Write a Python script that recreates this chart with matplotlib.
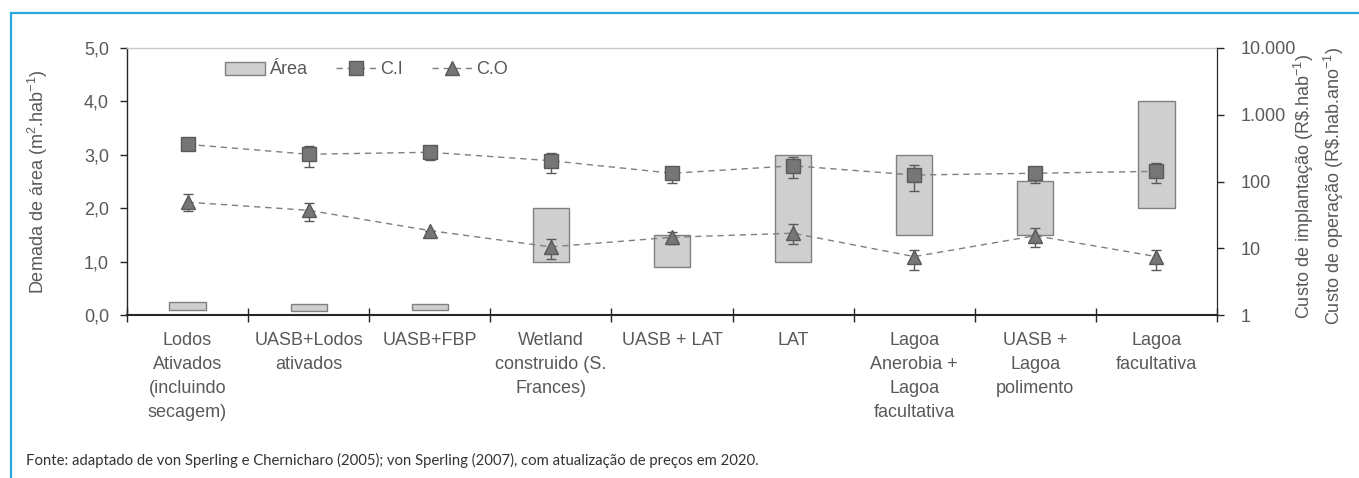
import matplotlib
matplotlib.use("Agg")
import matplotlib.pyplot as plt
from matplotlib import font_manager
from matplotlib.lines import Line2D
import numpy as np

# ---- data ----
categories = [
    "Lodos\nAtivados\n(incluindo\nsecagem)",
    "UASB+Lodos\nativados",
    "UASB+FBP",
    "Wetland\nconstruido (S.\nFrances)",
    "UASB + LAT",
    "LAT",
    "Lagoa\nAnerobia +\nLagoa\nfacultativa",
    "UASB +\nLagoa\npolimento",
    "Lagoa\nfacultativa",
]
area_min = [0.10, 0.08, 0.10, 1.0, 0.9, 1.0, 1.5, 1.5, 2.0]
area_max = [0.25, 0.20, 0.20, 2.0, 1.5, 3.0, 3.0, 2.5, 4.0]

ci = [360, 256, 274, 205, 133, 172, 125, 133, 142]
ci_low = [360, 165, 208, 135, 96, 113, 72, 95, 95]
ci_high = [360, 344, 344, 270, 167, 230, 177, 165, 189]

co = [49, 37, 18.4, 10.5, 14.6, 16.8, 7.5, 15.4, 7.5]
co_low = [36, 26, 18.4, 6.9, 11.6, 11.5, 4.8, 10.4, 4.8]
co_high = [66, 47, 18.4, 13.8, 17.5, 23, 9.5, 20.3, 9.5]

left_ticks = [0, 1, 2, 3, 4, 5]
left_ticklabels = ["0,0", "1,0", "2,0", "3,0", "4,0", "5,0"]
right_ticks = [1, 10, 100, 1000, 10000]
right_ticklabels = ["1", "10", "100", "1.000", "10.000"]

# ---- fonts ----
names = {f.name for f in font_manager.fontManager.ttflist}
main_font = "Liberation Sans Narrow" if "Liberation Sans Narrow" in names else "Liberation Sans"
note_font = "Lato" if "Lato" in names else "DejaVu Sans"
plt.rcParams["font.family"] = [main_font, "DejaVu Sans"]
plt.rcParams["mathtext.fontset"] = "custom"
plt.rcParams["mathtext.rm"] = main_font
plt.rcParams["mathtext.it"] = main_font
plt.rcParams["mathtext.default"] = "regular"

TXT = "#595959"
FS = 13

W, H = 1359, 478
fig = plt.figure(figsize=(W / 100, H / 100), dpi=100)
ax = fig.add_axes([127 / W, 1 - 315 / H, (1217 - 127) / W, (315 - 48) / H])

x = np.arange(len(categories))
heights = np.array(area_max) - np.array(area_min)
bars = ax.bar(x, heights, bottom=area_min, width=0.3, color="#d0cfd0",
              edgecolor="#808080", linewidth=1.0, zorder=2, label="Área")

ax.set_xlim(-0.5, len(categories) - 0.5)
ax.set_ylim(0, 5)
ax.set_yticks(left_ticks)
ax.set_yticklabels(left_ticklabels)
ax.set_xticks(x)
ax.set_xticklabels(categories, linespacing=1.55)
ax.set_xticks(np.arange(-0.5, len(categories)), minor=True)
ax.tick_params(axis="x", which="major", length=0, pad=12, labelsize=FS, labelcolor=TXT)
ax.tick_params(axis="x", which="minor", direction="inout", length=9.5, width=1.0, color="#262626")
ax.tick_params(axis="y", direction="out", length=5, width=1.0, color="#262626",
               pad=8, labelsize=FS, labelcolor=TXT)

for s in ("left", "bottom", "right"):
    ax.spines[s].set_color("#262626")
ax.spines["left"].set_linewidth(1.0)
ax.spines["bottom"].set_linewidth(1.5)
ax.spines["top"].set_color("#c8c8c8")
ax.spines["top"].set_linewidth(1.0)

ax.set_ylabel("Demada de área (m$^2$.hab$^{-1}$)", fontsize=FS, color=TXT, labelpad=24)

# ---- cost series on log axis ----
ax2 = ax.twinx()
ax2.set_yscale("log")
ax2.set_ylim(1, 10000)
ax2.set_yticks(right_ticks)
ax2.set_yticklabels(right_ticklabels)
ax2.yaxis.set_minor_locator(matplotlib.ticker.NullLocator())
ax2.tick_params(axis="y", direction="out", length=5, width=1.0, color="#262626",
                pad=12, labelsize=FS, labelcolor=TXT)
for s in ax2.spines.values():
    s.set_visible(False)
ax2.spines["right"].set_visible(True)
ax2.spines["right"].set_color("#262626")

ci_arr, co_arr = np.array(ci, float), np.array(co, float)
err_kw = dict(fmt="none", ecolor="#595959", elinewidth=1.0, capsize=3.5, capthick=1.0, zorder=3)
ax2.errorbar(x, ci_arr, yerr=[ci_arr - np.array(ci_low), np.array(ci_high) - ci_arr], **err_kw)
ax2.errorbar(x, co_arr, yerr=[co_arr - np.array(co_low), np.array(co_high) - co_arr], **err_kw)

line_kw = dict(color="#7f7f7f", linewidth=1.0, linestyle=(0, (4.5, 3.5)),
               markerfacecolor="#767676", markeredgecolor="#595959", markeredgewidth=1.0, zorder=4)
l_ci, = ax2.plot(x, ci_arr, marker="s", markersize=9.5, label="C.I", **line_kw)
l_co, = ax2.plot(x, co_arr, marker="^", markersize=10.5, label="C.O", **line_kw)

leg = ax2.legend([bars, l_ci, l_co], ["Área", "C.I", "C.O"], ncol=3, frameon=False,
                 loc="center left", bbox_to_anchor=((225 - 127) / 1090, (315 - 70) / 267),
                 fontsize=FS, handlelength=2.2, handletextpad=0.25, columnspacing=1.6,
                 borderpad=0, borderaxespad=0)
for t in leg.get_texts():
    t.set_color(TXT)

fig.text(1319 / W, 1 - 186 / H,
         "Custo de implantação (R\\$.hab$^{-1}$)\nCusto de operação (R\\$.hab.ano$^{-1}$)",
         rotation=90, ha="center", va="center", fontsize=FS, color=TXT, linespacing=1.3)

fig.text(26 / W, 1 - 460 / H,
         "Fonte: adaptado de von Sperling e Chernicharo (2005); von Sperling (2007), com atualização de preços em 2020.",
         ha="left", va="center", fontsize=10.7, color="#333333", family=[note_font, "DejaVu Sans"])

# frame lines
frame_c = "#29a8e0"
fig.add_artist(Line2D([11 / W, 1], [1 - 12.5 / H] * 2, transform=fig.transFigure,
                      color=frame_c, linewidth=1.6))
fig.add_artist(Line2D([11 / W, 11 / W], [0, 1 - 12.5 / H], transform=fig.transFigure,
                      color=frame_c, linewidth=1.6))

fig.savefig("out.png", dpi=100, facecolor="white")
